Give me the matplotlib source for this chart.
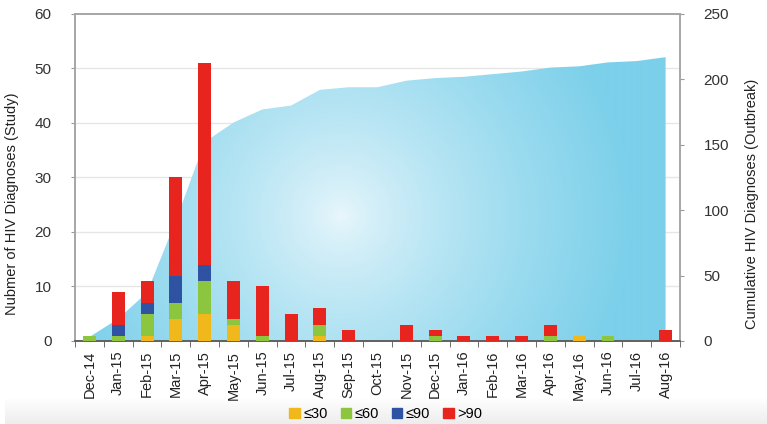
import numpy as np
import matplotlib
matplotlib.use("Agg")
import matplotlib.pyplot as plt
from matplotlib.colors import to_rgb
from matplotlib.patches import Patch

plt.rcParams['font.family'] = ['Liberation Sans', 'DejaVu Sans']

months = ['Dec-14', 'Jan-15', 'Feb-15', 'Mar-15', 'Apr-15', 'May-15', 'Jun-15',
          'Jul-15', 'Aug-15', 'Sep-15', 'Oct-15', 'Nov-15', 'Dec-15', 'Jan-16',
          'Feb-16', 'Mar-16', 'Apr-16', 'May-16', 'Jun-16', 'Jul-16', 'Aug-16']
le30 = [0, 0, 1, 4, 5, 3, 0, 0, 1, 0, 0, 0, 0, 0, 0, 0, 0, 1, 0, 0, 0]
le60 = [1, 1, 4, 3, 6, 1, 1, 0, 2, 0, 0, 0, 1, 0, 0, 0, 1, 0, 1, 0, 0]
le90 = [0, 2, 2, 5, 3, 0, 0, 0, 0, 0, 0, 0, 0, 0, 0, 0, 0, 0, 0, 0, 0]
gt90 = [0, 6, 4, 18, 37, 7, 9, 5, 3, 2, 0, 3, 1, 1, 1, 1, 2, 0, 0, 0, 2]
cumulative = [3, 17, 37, 92, 152, 167, 177, 180, 192, 194, 194, 199, 201, 202,
              204, 206, 209, 210, 213, 214, 217]

series = [('≤30', le30, '#f1b81b'), ('≤60', le60, '#8cc63f'),
          ('≤90', le90, '#2f52a2'), ('>90', gt90, '#e8241f')]

fig = plt.figure(figsize=(7.67, 4.24), dpi=100)
fig.patch.set_facecolor('white')

# grey band at the bottom holding the legend
band = fig.add_axes([0.007, 0.0, 0.993, 0.062], zorder=-5)
g = np.linspace(0, 1, 50)[:, None]
band.imshow(np.dstack([0.93 + 0.07 * g] * 3), aspect='auto', origin='lower',
            extent=(0, 1, 0, 1))
band.axis('off')

ax = fig.add_axes([0.0978, 0.1958, 0.7888, 0.7712])
ax2 = ax.twinx()
ax.set_zorder(2)
ax.patch.set_visible(False)
ax2.set_zorder(1)

x = np.arange(len(months))

# horizontal grid of the left axis, drawn behind the area
ax2.hlines([10, 20, 30, 40, 50], 0, 1, transform=ax.get_yaxis_transform(),
           colors='#e6e6e6', linewidth=1, zorder=0)

# cumulative area with radial gradient
poly = ax2.fill_between(x, cumulative, color='none', zorder=1)
ax2.set_ylim(0, 250)
ax2.set_xlim(-0.5, len(months) - 0.5)
h, w = 327, 605
yy, xx = np.mgrid[0:h, 0:w]
d = np.hypot(xx - 265, yy - 125)
t = np.clip(d / 290, 0, 1) ** 0.75
c0 = np.array(to_rgb('#eaf7fc'))
c1 = np.array(to_rgb('#7cd0ea'))
img = c0[None, None, :] * (1 - t[..., None]) + c1[None, None, :] * t[..., None]
im = ax2.imshow(img, extent=(-0.5, len(months) - 0.5, 0, 250), origin='lower',
                aspect='auto', zorder=1)
im.set_clip_path(poly.get_paths()[0], ax2.transData)

# stacked bars
bottom = np.zeros(len(months))
for name, vals, col in series:
    ax.bar(x, vals, 0.45, bottom=bottom, color=col, zorder=3)
    bottom += np.array(vals)

ax.set_ylim(0, 60)
ax.set_xlim(-0.5, len(months) - 0.5)
ax.set_yticks(range(0, 61, 10))
ax2.set_yticks(range(0, 251, 50))

ax.set_xticks(x)
ax.set_xticklabels(months, rotation=90, fontsize=10.5, color='#222222')
ax.set_xticks(np.arange(-0.5, len(months)), minor=True)
ax.tick_params(axis='x', which='major', length=0, pad=7)
ax.tick_params(axis='x', which='minor', length=4, color='#555555')
ax.tick_params(axis='y', length=3, color='#999999', labelsize=11,
               labelcolor='#333333', pad=14)
ax2.tick_params(axis='y', length=3, color='#999999', labelsize=11,
                labelcolor='#333333', pad=14)

for a in (ax, ax2):
    for s in a.spines.values():
        s.set_color('#a6a6a6')
        s.set_linewidth(1.2)
ax.spines['bottom'].set_color('#555555')

ax.set_ylabel('Nubmer of HIV Diagnoses (Study)', fontsize=10.5, color='#222222')
ax2.set_ylabel('Cumulative HIV Diagnoses (Outbreak)', fontsize=10.5, color='#222222')
ax.yaxis.set_label_coords(-0.093, 0.42)
ax2.yaxis.set_label_coords(1.107, 0.42)

handles = [Patch(color=col, label=name) for name, vals, col in series]
fig.legend(handles=handles, loc='center', bbox_to_anchor=(0.503, 0.024), ncol=4,
           frameon=False, fontsize=10.5, handlelength=0.7, handleheight=0.7,
           handletextpad=0.25, columnspacing=0.9)

fig.savefig('out.png', dpi=100)
